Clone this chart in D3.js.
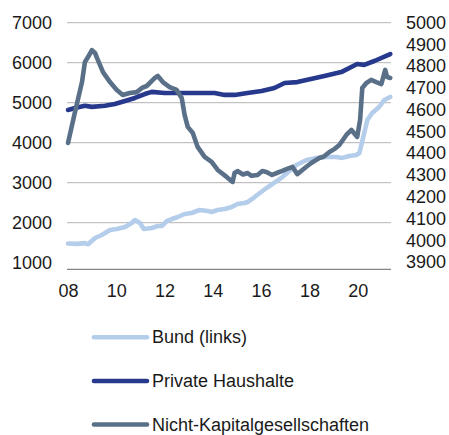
<!DOCTYPE html>
<html>
<head>
<meta charset="utf-8">
<script src="https://cdn.jsdelivr.net/npm/d3@7"></script>
<style>
  body { margin: 0; background: #fff; }
  text { font-family: 'Liberation Sans', Arial, sans-serif; }
</style>
</head>
<body>
<div id="chart"></div>
<script>
// Bund (left axis)
const bundT = [2008.0, 2008.4, 2008.7, 2008.83, 2009.12, 2009.4, 2009.74, 2010.02, 2010.36, 2010.64, 2010.77, 2010.98, 2011.14, 2011.47, 2011.72, 2011.88, 2012.09, 2012.3, 2012.55, 2012.83, 2013.12, 2013.45, 2013.79, 2013.95, 2014.2, 2014.49, 2014.78, 2015.02, 2015.31, 2015.44, 2015.73, 2016.22, 2016.88, 2017.46, 2017.88, 2018.29, 2018.7, 2019.12, 2019.36, 2019.65, 2019.94, 2020.07, 2020.27, 2020.4, 2020.6, 2020.89, 2021.1, 2021.35];
const bundV = [1480, 1470, 1490, 1460, 1617, 1692, 1817, 1842, 1892, 1992, 2067, 1992, 1842, 1867, 1917, 1917, 2042, 2092, 2142, 2217, 2242, 2317, 2292, 2267, 2317, 2342, 2392, 2467, 2492, 2517, 2642, 2867, 3142, 3442, 3567, 3617, 3642, 3642, 3620, 3667, 3692, 3742, 4242, 4567, 4742, 4892, 5067, 5142];

// Private Haushalte (right axis)
const phT = [2008.0, 2008.29, 2008.7, 2008.99, 2009.53, 2009.94, 2010.36, 2010.77, 2011.18, 2011.47, 2012.0, 2012.92, 2013.37, 2014.07, 2014.49, 2014.9, 2015.44, 2016.02, 2016.55, 2016.97, 2017.5, 2018.62, 2019.32, 2019.98, 2020.27, 2020.69, 2021.35];
const phV = [4599, 4608, 4618, 4613, 4618, 4626, 4640, 4654, 4672, 4682, 4677, 4677, 4677, 4677, 4668, 4668, 4677, 4686, 4700, 4723, 4727, 4755, 4773, 4810, 4806, 4824, 4856];

// Nicht-Kapitalgesellschaften (right axis)
const nkgT = [2008.0, 2008.29, 2008.58, 2008.7, 2008.83, 2008.99, 2009.12, 2009.2, 2009.45, 2009.74, 2010.02, 2010.27, 2010.56, 2010.85, 2011.06, 2011.26, 2011.6, 2011.72, 2011.93, 2012.21, 2012.5, 2012.71, 2012.83, 2012.96, 2013.17, 2013.37, 2013.66, 2013.95, 2014.2, 2014.57, 2014.82, 2014.9, 2015.02, 2015.25, 2015.44, 2015.6, 2015.85, 2016.05, 2016.22, 2016.45, 2016.64, 2016.85, 2017.05, 2017.3, 2017.5, 2017.71, 2017.9, 2018.08, 2018.41, 2018.6, 2018.83, 2019.05, 2019.24, 2019.53, 2019.74, 2019.98, 2020.1, 2020.19, 2020.36, 2020.56, 2020.77, 2020.98, 2021.14, 2021.22, 2021.35];
const nkgV = [4447, 4589, 4727, 4819, 4842, 4874, 4861, 4838, 4773, 4727, 4691, 4668, 4677, 4681, 4700, 4709, 4746, 4755, 4727, 4704, 4691, 4654, 4576, 4521, 4493, 4429, 4383, 4360, 4323, 4291, 4268, 4309, 4318, 4302, 4309, 4296, 4300, 4318, 4314, 4300, 4309, 4318, 4327, 4337, 4304, 4323, 4340, 4355, 4378, 4385, 4406, 4420, 4438, 4484, 4507, 4475, 4553, 4700, 4723, 4737, 4727, 4718, 4783, 4750, 4746];

const xTicks = [2008, 2010, 2012, 2014, 2016, 2018, 2020];
const xTickLabels = ['08', '10', '12', '14', '16', '18', '20'];
const leftTicks = [1000, 2000, 3000, 4000, 5000, 6000, 7000];
const rightTicks = [3900, 4000, 4100, 4200, 4300, 4400, 4500, 4600, 4700, 4800, 4900, 5000];

const seriesNames = ['Bund (links)', 'Private Haushalte', 'Nicht-Kapitalgesellschaften'];
const colors = ['#b4cdea', '#27398c', '#5a7088'];

const width = 449;
const height = 435;
const margin = { top: 22.7, right: 58, bottom: 165.7, left: 67 };

const svg = d3
  .select('#chart')
  .append('svg')
  .attr('width', width)
  .attr('height', height);

const x = d3
  .scaleLinear()
  .domain([2008, 2021.38])
  .range([68, 391]);

const yLeft = d3
  .scaleLinear()
  .domain([835, 7000])
  .range([height - margin.bottom, margin.top]);

const yRight = d3
  .scaleLinear()
  .domain([3866.4, 5000])
  .range([height - margin.bottom, margin.top]);

const x0 = margin.left;
const x1 = width - margin.right;

// gridlines
svg
  .append('g')
  .selectAll('line')
  .data(leftTicks.filter((d) => d > 1000))
  .enter()
  .append('line')
  .attr('x1', x0)
  .attr('x2', x1)
  .attr('y1', (d) => yLeft(d))
  .attr('y2', (d) => yLeft(d))
  .attr('stroke', '#b3b3b3')
  .attr('stroke-width', 1);

// bottom axis line
svg
  .append('line')
  .attr('x1', x0)
  .attr('x2', x1)
  .attr('y1', height - margin.bottom)
  .attr('y2', height - margin.bottom)
  .attr('stroke', '#868686')
  .attr('stroke-width', 1.2);

// Axes
const leftAxis = svg
  .append('g')
  .attr('transform', 'translate(52,0)')
  .call(
    d3.axisLeft(yLeft)
      .tickValues(leftTicks)
      .tickFormat(d3.format('d'))
      .tickSize(0)
      .tickPadding(0),
  );

const rightAxis = svg
  .append('g')
  .attr('transform', 'translate(406,0)')
  .call(
    d3.axisRight(yRight)
      .tickValues(rightTicks)
      .tickFormat(d3.format('d'))
      .tickSize(0)
      .tickPadding(0),
  );

const bottomAxis = svg
  .append('g')
  .attr('transform', `translate(0,${height - margin.bottom})`)
  .call(
    d3.axisBottom(x)
      .tickValues(xTicks)
      .tickFormat((d, i) => xTickLabels[i])
      .tickSize(0)
      .tickPadding(15),
  );

[leftAxis, rightAxis, bottomAxis].forEach((g) => {
  g.select('.domain').remove();
  g.selectAll('text')
    .style('font-size', '18px')
    .style('font-family', "'Liberation Sans', Arial, sans-serif")
    .attr('fill', '#1a1a1a');
});

// Lines
const series = [
  { t: bundT, v: bundV, y: yLeft },
  { t: phT, v: phV, y: yRight },
  { t: nkgT, v: nkgV, y: yRight },
];

series.forEach((s, i) => {
  const line = d3
    .line()
    .x((d, j) => x(s.t[j]))
    .y((d) => s.y(d));
  svg
    .append('path')
    .datum(s.v)
    .attr('d', line)
    .attr('fill', 'none')
    .attr('stroke', colors[i])
    .attr('stroke-width', 4.6)
    .attr('stroke-linejoin', 'round')
    .attr('stroke-linecap', 'round');
});

// Legend
const legendY = [337.3, 381, 424.5];
seriesNames.forEach((name, i) => {
  svg
    .append('line')
    .attr('x1', 94)
    .attr('x2', 147)
    .attr('y1', legendY[i])
    .attr('y2', legendY[i])
    .attr('stroke', colors[i])
    .attr('stroke-width', 4.6)
    .attr('stroke-linecap', 'round');
  svg
    .append('text')
    .attr('x', 152)
    .attr('y', legendY[i] + 6)
    .style('font-size', '18px')
    .attr('fill', '#1a1a1a')
    .text(name);
});
</script>
</body>
</html>
